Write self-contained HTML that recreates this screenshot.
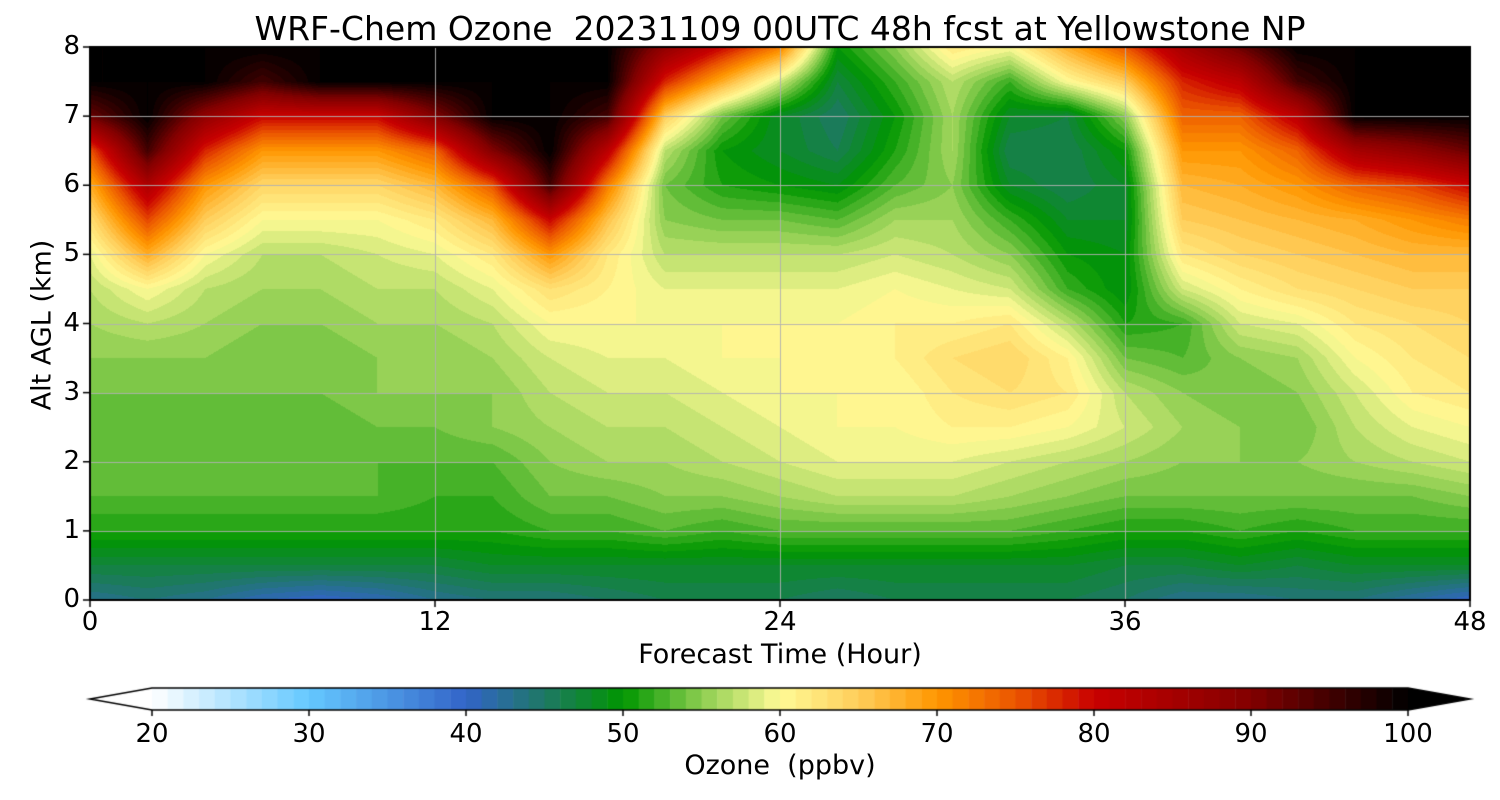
<!DOCTYPE html>
<html><head><meta charset="utf-8">
<style>
html,body{margin:0;padding:0;background:#fff;}
body{width:1500px;height:800px;position:relative;overflow:hidden;font-family:"DejaVu Sans","Liberation Sans",sans-serif;}
.t{position:absolute;color:#000;white-space:nowrap;}
</style></head>
<body>
<div class="t" style="left:0;width:1560px;text-align:center;top:9px;font-size:33px;">WRF-Chem Ozone&nbsp; 20231109 00UTC 48h fcst at Yellowstone NP</div>
<canvas id="plot" width="1500" height="800" style="position:absolute;left:0;top:0"></canvas>
<div class="t" style="left:0;width:1560px;text-align:center;top:639px;font-size:27px;">Forecast Time (Hour)</div>
<div class="t" style="left:42px;top:325px;font-size:27px;transform:translate(-50%,-50%) rotate(-90deg);">Alt AGL (km)</div>
<div class="t" style="left:0;width:1560px;text-align:center;top:750px;font-size:27px;">Ozone&nbsp; (ppbv)</div>
<div id="labels"></div>
<script>
// ---- data ----
const hours = [0,2,4,6,8,10,12,14,16,18,20,22,24,26,28,30,32,34,36,38,40,42,44,46,48];
const altitudes = [0,0.5,1,1.5,2,2.5,3,3.5,4,4.5,5,5.5,6,6.5,7,7.5,8];
// ozone[i] = profile (ppbv) at hours[i], bottom to top
const ozone = [
[43,47,51,53,54,53,54,55,56,57,59,63,68,75,92,100,100],
[44,47,51,53,53,53,54,55,57,60,68,76,84,95,100,100,100],
[43,47,51,53,53,53,54,55,56,57,60,65,70,78,88,100,100],
[41,47,51,53,53,53,54,54,55,56,57,60,64,70,80,95,100],
[40,47,51,53,53,53,54,54,55,56,57,60,64,70,80,100,100],
[41,47,51,53,53,54,55,55,56,57,58,60,64,70,80,100,100],
[43,47,51,52,53,54,55,55,56,57,59,62,67,74,90,100,100],
[44,48,51,52,53,55,55,56,57,59,62,67,75,90,100,100,100],
[44,48,52,54,55,56,57,58,60,63,70,80,95,100,100,100,100],
[45,48,52,54,56,57,58,59,60,61,62,66,72,82,95,100,100],
[46,48,53,55,56,57,58,59,60,59,57,55,54,57,65,78,88],
[46,48,52,55,57,58,59,60,60,59,57,54,51,50,54,68,80],
[46,48,53,56,58,59,60,60,60,59,57,54,50,48,48,58,72],
[45,48,53,57,59,60,60,61,60,59,57,53,49,46,45,47,50],
[46,48,53,57,59,60,60,61,61,60,58,56,53,51,50,52,55],
[46,48,53,57,59,61,62,63,61,59,57,56,55,56,56,57,62],
[46,48,53,56,58,61,63,64,62,58,55,52,48,46,48,52,60],
[46,48,52,55,57,60,62,61,57,52,50,48,46,46,47,60,68],
[45,47,51,54,56,58,57,54,51,49,49,48,48,50,55,65,75],
[43,47,51,54,55,56,55,53,52,58,62,65,67,70,74,78,85],
[43,48,52,54,55,55,54,55,58,61,64,66,68,70,74,82,92],
[44,47,51,54,55,54,55,56,59,63,65,67,70,74,82,95,100],
[44,48,52,54,56,57,58,60,62,64,66,68,74,85,100,100,100],
[42,48,52,54,57,59,61,62,63,65,67,70,76,88,100,100,100],
[40,48,52,55,58,60,62,63,64,65,67,72,80,92,100,100,100]
];
const xTicks = [0,12,24,36,48];
const yTicks = [0,1,2,3,4,5,6,7,8];
const cbTicks = [20,30,40,50,60,70,80,90,100];

// ---- layout ----
const L=90,R=1470,T=47,B=600;
const xS=h=>L+(h-0)/48*(R-L);
const yS=z=>B-(z/8)*(B-T);
const CB0=152,CB1=1408,CBT=688,CBB=710;
const cS=v=>CB0+(v-20)/80*(CB1-CB0);
const stops=[[20,[255,255,255]],[30,[100,200,255]],[40,[50,100,200]],[45,[30,120,100]],[50,[0,150,0]],[55,[140,205,80]],[60,[255,250,150]],[65,[255,205,90]],[70,[255,150,0]],[75,[235,85,0]],[80,[200,0,0]],[90,[130,0,0]],[100,[0,0,0]]];
function cmap(v){v=Math.max(20,Math.min(100,v));for(let i=1;i<stops.length;i++){if(v<=stops[i][0]){const a=stops[i-1],b=stops[i],t=(v-a[0])/(b[0]-a[0]);return a[1].map((c,k)=>Math.round(c+(b[1][k]-c)*t));}}return [0,0,0];}
function interp(arr,x){let i=0;while(i<arr.length-2&&arr[i+1]<x)i++;return [i,(x-arr[i])/(arr[i+1]-arr[i])];}

const c=document.getElementById('plot'),g=c.getContext('2d');
const img=g.createImageData(R-L,B-T);
for(let py=0;py<B-T;py++){const z=(B-(T+py+0.5))/(B-T)*8;const [j,ty]=interp(altitudes,z);
 for(let px=0;px<R-L;px++){const h=(px+0.5)/(R-L)*48;const [i,tx]=interp(hours,h);
  const v=(ozone[i][j]*(1-tx)+ozone[i+1][j]*tx)*(1-ty)+(ozone[i][j+1]*(1-tx)+ozone[i+1][j+1]*tx)*ty;
  const q=Math.floor(v)+0.5;const col=cmap(q);const o=(py*(R-L)+px)*4;
  img.data[o]=col[0];img.data[o+1]=col[1];img.data[o+2]=col[2];img.data[o+3]=255;}}
g.putImageData(img,L,T);
g.strokeStyle='rgba(176,176,176,0.9)';g.lineWidth=1;
xTicks.forEach(h=>{g.beginPath();g.moveTo(Math.round(xS(h))+0.5,T);g.lineTo(Math.round(xS(h))+0.5,B);g.stroke();});
yTicks.forEach(z=>{g.beginPath();g.moveTo(L,Math.round(yS(z))+0.5);g.lineTo(R,Math.round(yS(z))+0.5);g.stroke();});
g.strokeStyle='#000';g.lineWidth=2;g.strokeRect(L,T,R-L,B-T);
g.lineWidth=1.5;
xTicks.forEach(h=>{g.beginPath();g.moveTo(xS(h),B);g.lineTo(xS(h),B+7);g.stroke();});
yTicks.forEach(z=>{g.beginPath();g.moveTo(L,yS(z));g.lineTo(L-7,yS(z));g.stroke();});
// colorbar
for(let v=20;v<100;v++){const col=cmap(v+0.5);g.fillStyle=`rgb(${col})`;g.fillRect(cS(v),CBT,cS(v+1)-cS(v)+0.5,CBB-CBT);}
g.fillStyle='#fff';g.beginPath();g.moveTo(CB0,CBT);g.lineTo(L,(CBT+CBB)/2);g.lineTo(CB0,CBB);g.closePath();g.fill();
g.fillStyle='#000';g.beginPath();g.moveTo(CB1,CBT);g.lineTo(R,(CBT+CBB)/2);g.lineTo(CB1,CBB);g.closePath();g.fill();
g.lineWidth=1.5;g.beginPath();g.moveTo(CB0,CBT);g.lineTo(CB1,CBT);g.lineTo(R,(CBT+CBB)/2);g.lineTo(CB1,CBB);g.lineTo(CB0,CBB);g.lineTo(L,(CBT+CBB)/2);g.closePath();g.stroke();
cbTicks.forEach(v=>{g.beginPath();g.moveTo(cS(v),CBB);g.lineTo(cS(v),CBB+6);g.stroke();});

const lab=document.getElementById('labels');
function addLabel(txt,x,y,name,align){const d=document.createElement('div');d.className='t';d.textContent=txt;
 
 
 d.style.fontSize='26px';d.style.top=(y-16)+'px';
 if(align==='right'){d.style.right=(1500-x)+'px';}else{d.style.left=x+'px';d.style.transform='translateX(-50%)';}
 lab.appendChild(d);}
xTicks.forEach(h=>addLabel(String(h),xS(h),623,'x-tick-label','center'));
yTicks.forEach(z=>addLabel(String(z),80,yS(z),'y-tick-label','right'));
cbTicks.forEach(v=>addLabel(String(v),cS(v),735,'colorbar-tick-label','center'));
</script>
</body></html>
